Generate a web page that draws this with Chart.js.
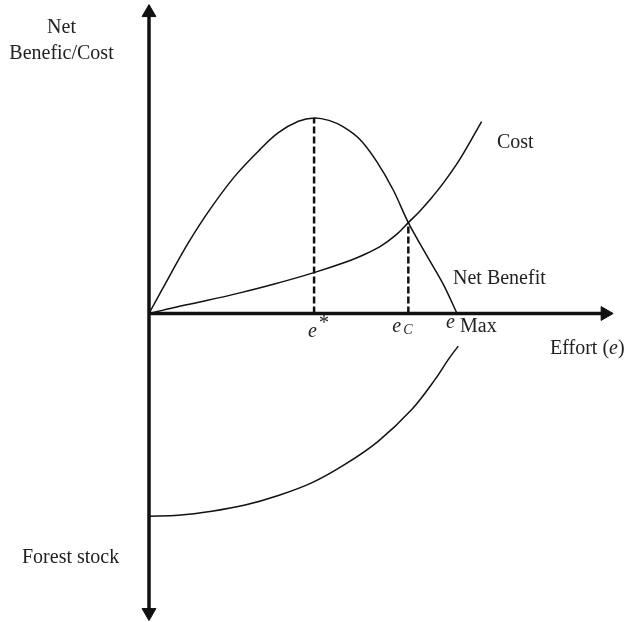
<!DOCTYPE html>
<html>
<head>
<meta charset="utf-8">
<script src="https://cdn.jsdelivr.net/npm/chart.js@4.4.1/dist/chart.umd.min.js"></script>
<style>
  html, body { margin: 0; padding: 0; background: #fff; }
  #wrap { width: 625px; height: 622px; }
</style>
</head>
<body>
<div id="wrap"><canvas id="chart" width="625" height="622"></canvas></div>
<script>
// values (x = effort, y = benefit / cost, forest stock below the axis)
const effortNB   = [0, 0.68, 1.28, 1.98, 2.79, 3.60, 4.20, 4.85, 5.36, 5.84, 6.31, 6.85, 7.39, 7.93, 8.42, 9.02, 9.56, 10.0];
const netBenefit = [0, 1.24, 2.30, 3.38, 4.46, 5.32, 5.87, 6.24, 6.35, 6.27, 6.06, 5.65, 4.94, 4.01, 2.95, 1.88, 0.94, 0];

const effortCost = [0, 0.79, 1.87, 2.95, 4.04, 5.33, 6.42, 6.96, 7.50, 8.04, 8.42, 8.80, 9.12, 9.56, 10.10, 10.80];
const cost       = [0, 0.19, 0.42, 0.67, 0.95, 1.32, 1.68, 1.90, 2.17, 2.57, 2.95, 3.33, 3.69, 4.24, 5.02, 6.23];

const effortForest = [0, 0.95, 2.04, 3.12, 4.20, 5.28, 6.36, 7.44, 8.53, 9.29, 9.72, 10.04];
const forestStock  = [-6.58, -6.55, -6.42, -6.22, -5.91, -5.50, -4.90, -4.15, -3.12, -2.14, -1.49, -1.06];

// e* and e_c: dashed drop lines from the curves down to the effort axis
const markerEffort = [5.36, 8.42];
const markerValue  = [6.35, 2.95];
const eMax = 10.0;

// axis extents (arrow centres)
const axisTop = 9.77, axisBottom = -9.71, axisRight = 14.81;

function pts(xs, ys) {
    return xs.map((x, i) => ({ x: x, y: ys[i] }));
}

const INK = '#111';
const PX = 30.8;           // pixels per unit
const ORIGIN_X = 149, ORIGIN_Y = 313.5;

const curve = { borderColor: INK, borderWidth: 1.5, pointRadius: 0, tension: 0.35, fill: false };
const dashed = { borderColor: INK, borderWidth: 2.5, borderDash: [7, 3], pointRadius: 0, fill: false };
const arrowAxis = {
    borderColor: INK, borderWidth: 3.5, pointStyle: 'triangle', pointRadius: [0, 8],
    pointBackgroundColor: INK, pointBorderColor: INK, pointBorderWidth: 1, fill: false
};

const labelPlugin = {
    id: 'figLabels',
    afterDraw(chart) {
        const ctx = chart.ctx;
        const sx = chart.scales.x;
        const serif = '"Liberation Serif", "Times New Roman", serif';
        ctx.save();
        ctx.fillStyle = '#222';
        ctx.textBaseline = 'alphabetic';
        function put(text, x, y, style, size, align) {
            ctx.font = (style || '') + ' ' + (size || 20) + 'px ' + serif;
            ctx.textAlign = align || 'left';
            ctx.fillText(text, x, y);
            return ctx.measureText(text).width;
        }
        put('Net', 61.5, 33, '', 20, 'center');
        put('Benefic/Cost', 61.5, 59, '', 20, 'center');
        put('Cost', 497, 148);
        put('Net Benefit', 453, 284);
        put('Forest stock', 22, 563);

        // Effort (e)
        let x = 550;
        x += put('Effort (', x, 354);
        x += put('e', x, 354, 'italic');
        put(')', x, 354);

        // e*
        const xs = sx.getPixelForValue(markerEffort[0]);
        put('e', xs - 6, 337, 'italic');
        put('*', xs + 5, 329);

        // e_c
        const xc = sx.getPixelForValue(markerEffort[1]);
        put('e', xc - 16, 332, 'italic');
        put('C', xc - 5, 334, 'italic', 14);

        // e Max
        const xm = sx.getPixelForValue(eMax);
        put('e', xm - 11, 328, 'italic');
        put('Max', xm + 3, 332);
        ctx.restore();
    }
};

new Chart(document.getElementById('chart'), {
    type: 'line',
    data: {
        datasets: [
            Object.assign({}, arrowAxis, { data: [{ x: 0, y: axisBottom }, { x: 0, y: axisTop }], pointRadius: [8, 8], pointRotation: [180, 0] }),
            Object.assign({}, arrowAxis, { data: [{ x: 0, y: 0 }, { x: axisRight, y: 0 }], pointRotation: [0, 90] }),
            Object.assign({}, curve, { label: 'Net Benefit', data: pts(effortNB, netBenefit) }),
            Object.assign({}, curve, { label: 'Cost', data: pts(effortCost, cost) }),
            Object.assign({}, curve, { label: 'Forest stock', data: pts(effortForest, forestStock) }),
            Object.assign({}, dashed, { data: [{ x: markerEffort[0], y: 0 }, { x: markerEffort[0], y: markerValue[0] }] }),
            Object.assign({}, dashed, { data: [{ x: markerEffort[1], y: 0 }, { x: markerEffort[1], y: markerValue[1] }] })
        ]
    },
    options: {
        responsive: false,
        animation: false,
        layout: { padding: 0, autoPadding: false },
        scales: {
            x: { type: 'linear', display: false, min: -ORIGIN_X / PX, max: (625 - ORIGIN_X) / PX },
            y: { type: 'linear', display: false, min: -(622 - ORIGIN_Y) / PX, max: ORIGIN_Y / PX }
        },
        plugins: { legend: { display: false }, tooltip: { enabled: false } }
    },
    plugins: [labelPlugin]
});
</script>
</body>
</html>
